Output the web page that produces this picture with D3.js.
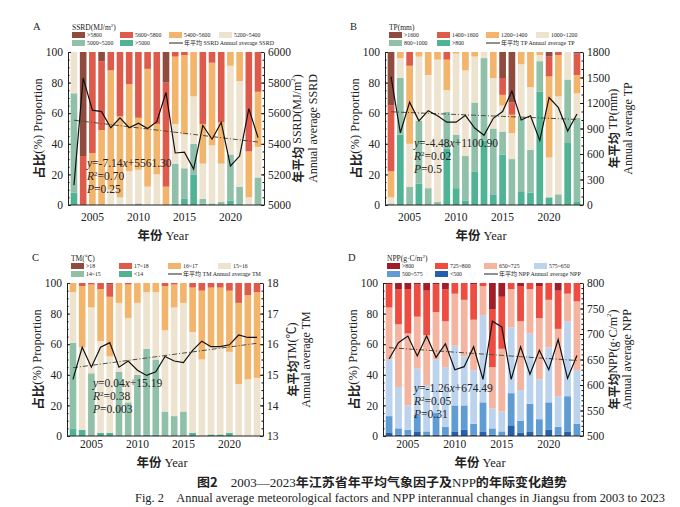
<!DOCTYPE html>
<html>
<head>
<meta charset="utf-8">
<script src="https://cdn.jsdelivr.net/npm/d3@7"></script>
<style>
  body { margin: 0; background: #fff; }
  svg { display: block; }
  text { font-family: "Liberation Serif", "Noto Sans CJK SC", serif; fill: #222; }
</style>
</head>
<body>
<div id="chart"></div>
<script>
// years shared by all four panels
var years = d3.range(2003, 2024);
var yearTicks = [2005, 2010, 2015, 2020];

// share (%) of each class per year, bottom class first
var ssrdPct = [
  [8,65,27,0,0,0],[0,0,0,0,32,68],[0,0,0,34,66,0],[0,0,0,49,45,6],[0,0,10,78,12,0],
  [0,0,5,53,42,0],[0,0,22,57,21,0],[0,1,22,34,43,0],[0,0,12,77,11,0],[0,0,20,33,47,0],
  [0,0,0,12,68,20],[1,26,26,44,3,0],[4,20,22,52,2,0],[20,20,31,29,0,0],[1,3,23,26,47,0],
  [0,1,38,54,7,0],[0,2,25,27,46,0],[3,30,58,9,0,0],[0,12,69,19,0,0],[0,0,5,30,65,0],
  [0,18,20,36,26,0]
];
var ssrdMean = [5130,5830,5620,5610,5505,5570,5505,5535,5500,5545,5735,5340,5345,5235,5520,5430,5540,5255,5320,5630,5440];

var tpPct = [
  [0,1,4,17,43,35],[46,37,13,4,0,0],[0,12,28,51,9,0],[14,41,42,3,0,0],[0,11,74,15,0,0],
  [0,2,93,5,0,0],[37,24,14,20,5,0],[11,35,53,1,0,0],[3,29,56,12,0,0],[22,45,30,3,0,0],
  [42,54,4,0,0,0],[7,43,33,17,0,0],[33,15,17,7,11,17],[0,30,17,12,8,33],[9,48,35,8,0,0],
  [8,28,41,23,0,0],[74,20,4,2,0,0],[5,0,26,53,13,3],[0,7,64,27,2,0],[41,41,18,0,0,0],
  [2,55,16,12,14,1]
];
var tpMean = [1510,850,1210,990,1110,1050,975,975,1055,905,820,1020,1100,1340,1000,1050,760,1265,1145,870,1070];

var tmPct = [
  [5,56,33,6,0,0],[4,0,54,40,2,0],[0,41,43,15,1,0],[2,0,60,34,4,0],[2,0,50,39,8,1],
  [0,42,45,13,0,0],[0,22,55,22,1,0],[0,40,47,13,0,0],[1,56,37,6,0,0],[1,49,44,6,0,0],
  [0,16,53,29,2,0],[0,13,71,15,1,0],[0,16,71,13,0,0],[2,0,66,29,3,0],[0,0,50,45,5,0],
  [1,0,57,39,3,0],[1,0,57,39,3,0],[2,0,53,40,5,0],[0,0,34,53,13,0],[0,0,37,55,8,0],
  [0,0,38,56,6,0]
];
var tmMean = [14.85,15.9,15.25,15.9,16.05,15.25,15.45,15.15,14.98,15.1,15.6,15.45,15.4,15.8,16.1,15.92,15.92,15.98,16.3,16.22,16.22];

var nppPct = [
  [2,11,37,34,15,1],[1,4,27,41,23,4],[1,3,16,47,29,4],[3,11,30,34,21,1],[1,2,30,33,29,5],
  [1,14,35,31,18,1],[1,5,39,30,21,4],[3,17,39,34,7,0],[4,16,32,37,11,0],[1,7,35,33,23,1],
  [3,19,57,19,2,0],[1,4,13,27,38,17],[0,3,13,41,34,9],[7,21,43,25,4,0],[2,8,20,45,23,2],
  [3,18,46,29,4,0],[1,10,26,40,21,2],[4,18,36,31,11,0],[1,5,20,44,25,5],[3,23,49,18,7,0],
  [0,8,35,45,12,0]
];
var nppMean = [651,683,696,657,696,654,681,630,636,675,611,725,714,611,675,621,668,630,689,613,658];

// class labels, bottom class first
var ssrdClasses = [">5000","5000~5200","5200~5400","5400~5600","5600~5800",">5800"];
var tpClasses = [">800","800~1000","1000~1200","1200~1400","1400~1600",">1600"];
var tmClasses = ["<14","14~15","15~16","16~17","17~18",">18"];
var nppClasses = ["<500","500~575","575~650","650~725","725~800",">800"];

var warmColors = ["#4fb394","#90c0a8","#ede3cf","#f2b56b","#de5a4a","#8e4b3e"];
var nppColors = ["#2660ac","#5f9cd4","#bcd3ee","#f4b49f","#ee4c40","#a01e2a"];

var svg = d3.select("#chart").append("svg")
    .attr("width", 680)
    .attr("height", 507);

svg.append("rect").attr("width", 680).attr("height", 507).attr("fill", "#fff");

function drawPanel(p) {
    var g = svg.append("g");

    var x = d3.scaleBand().domain(years)
        .range([p.left + 1, p.right - 1])
        .paddingInner(0.28).paddingOuter(0.18);
    var y = d3.scaleLinear().domain([0, 100]).range([p.bottom, p.top]);
    var y2 = d3.scaleLinear().domain(p.rDomain).range([p.bottom, p.top]);

    // stacked bars
    var rows = p.pct.map(function(r, i) {
        var o = {year: years[i]};
        r.forEach(function(v, k) { o["c" + k] = v; });
        return o;
    });
    var keys = d3.range(6).map(function(k) { return "c" + k; });
    var series = d3.stack().keys(keys)(rows);

    g.selectAll(".layer")
        .data(series)
        .enter().append("g")
        .attr("fill", function(d, k) { return p.colors[k]; })
        .selectAll("rect")
        .data(function(d) { return d; })
        .enter().append("rect")
        .attr("x", function(d) { return x(d.data.year); })
        .attr("width", x.bandwidth())
        .attr("y", function(d) { return y(d[1]); })
        .attr("height", function(d) { return y(d[0]) - y(d[1]); });

    // trend line from fitted equation, index 1..21
    var trend = years.map(function(yr, i) { return {year: yr, v: p.slope * (i + 1) + p.intercept}; });
    var cx = function(d) { return x(d.year) + x.bandwidth() / 2; };
    g.append("path")
        .datum(trend)
        .attr("fill", "none")
        .attr("stroke", "#4d4d40")
        .attr("stroke-width", 1)
        .attr("stroke-dasharray", "5,2,1,2")
        .attr("d", d3.line().x(cx).y(function(d) { return y2(d.v); }));

    // annual mean line
    var mean = years.map(function(yr, i) { return {year: yr, v: p.mean[i]}; });
    g.append("path")
        .datum(mean)
        .attr("fill", "none")
        .attr("stroke", "#111")
        .attr("stroke-width", 1.2)
        .attr("d", d3.line().x(cx).y(function(d) { return y2(d.v); }));

    // axes
    var left = g.append("g").attr("transform", "translate(" + p.left + ",0)")
        .call(d3.axisLeft(y).tickValues([0,20,40,60,80,100]).tickSizeInner(-3).tickSizeOuter(0).tickPadding(5));
    g.append("g").attr("transform", "translate(" + p.left + ",0)")
        .call(d3.axisLeft(y).tickValues(d3.range(5, 100, 5)).tickSize(-1.5).tickFormat(""))
        .select(".domain").remove();
    var right = g.append("g").attr("transform", "translate(" + p.right + ",0)")
        .call(d3.axisRight(y2).tickValues(p.rTicks).tickFormat(d3.format("")).tickSizeInner(-3).tickSizeOuter(0).tickPadding(4));
    g.append("g").attr("transform", "translate(" + p.right + ",0)")
        .call(d3.axisRight(y2).tickValues(p.rMinor).tickSize(-1.5).tickFormat(""))
        .select(".domain").remove();
    var bottom = g.append("g").attr("transform", "translate(0," + p.bottom + ")")
        .call(d3.axisBottom(x).tickValues(yearTicks).tickSize(0).tickPadding(p.xPad));
    bottom.select(".domain").attr("d", "M" + p.left + ",0H" + p.right);

    [left, right, bottom].forEach(function(a) {
        a.selectAll("text").attr("font-size", 11.5).attr("fill", "#222")
            .attr("font-family", "Liberation Serif, serif");
        a.selectAll("line, path").attr("stroke", "#222");
    });

    // axis titles
    var midY = (p.top + p.bottom) / 2;
    g.append("text")
        .attr("transform", "translate(" + (p.left - 30) + "," + midY + ") rotate(-90)")
        .attr("text-anchor", "middle").attr("dominant-baseline", "central")
        .attr("font-size", 12.5)
        .html('<tspan font-weight="bold" font-family="Noto Sans CJK SC">占比</tspan>(%) Proportion');
    g.append("text")
        .attr("transform", "translate(" + (p.right + p.r1) + "," + midY + ") rotate(-90)")
        .attr("text-anchor", "middle").attr("dominant-baseline", "central")
        .attr("font-size", 12)
        .html(p.rTitle1);
    g.append("text")
        .attr("transform", "translate(" + (p.right + p.r2) + "," + midY + ") rotate(-90)")
        .attr("text-anchor", "middle").attr("dominant-baseline", "central")
        .attr("font-size", 12)
        .text(p.rTitle2);
    g.append("text")
        .attr("x", (p.left + p.right) / 2 - 3).attr("y", p.bottom + p.xTitle)
        .attr("text-anchor", "middle").attr("font-size", 12.5)
        .html('<tspan font-weight="bold" font-family="Noto Sans CJK SC">年份</tspan> Year');

    // panel letter
    g.append("text").attr("x", p.left - 35).attr("y", p.top - 22)
        .attr("font-size", 10.5).text(p.letter);

    // equation
    var eq = g.append("g");
    eq.append("text").attr("x", p.eqX).attr("y", p.eqY).attr("font-size", 11.5).attr("fill", "#3b3b30")
        .html('<tspan font-style="italic">y</tspan>=' + p.eq1 + '<tspan font-style="italic">x</tspan>+' + p.eq2);
    eq.append("text").attr("x", p.eqX).attr("y", p.eqY + 13).attr("font-size", 11.5).attr("fill", "#3b3b30")
        .html('<tspan font-style="italic">R</tspan><tspan dy="-4" font-size="7">2</tspan><tspan dy="4">=' + p.r2v + '</tspan>');
    eq.append("text").attr("x", p.eqX).attr("y", p.eqY + 26).attr("font-size", 11.5).attr("fill", "#3b3b30")
        .html('<tspan font-style="italic">P</tspan>=' + p.pv);

    // legend
    var lg = g.append("g").attr("transform", "translate(" + (p.left + 4) + "," + (p.top - 20) + ")");
    lg.append("text").attr("x", 0).attr("y", -2).attr("font-size", 7.5).html(p.legTitle);
    var cols = [0, 48, 97, 147];
    var order = [5, 4, 3, 2, 1, 0];
    order.forEach(function(k, i) {
        var cxl = cols[i % 4], cyl = i < 4 ? 0 : 8;
        lg.append("rect").attr("x", cxl).attr("y", cyl).attr("width", 13).attr("height", 6)
            .attr("fill", p.colors[k]);
        lg.append("text").attr("x", cxl + 15).attr("y", cyl + 5).attr("font-size", 5.8)
            .text(p.classes[k]);
    });
    lg.append("line").attr("x1", cols[2]).attr("x2", cols[2] + 14).attr("y1", 11).attr("y2", 11)
        .attr("stroke", "#222").attr("stroke-width", 1);
    lg.append("text").attr("x", cols[2] + 15).attr("y", 13).attr("font-size", 6)
        .html('<tspan font-family="Noto Sans CJK SC">年平均</tspan> ' + p.legLine);
}

drawPanel({
    letter: "A", left: 68, right: 264, top: 52, bottom: 205, xPad: 8, xTitle: 35,
    pct: ssrdPct, mean: ssrdMean, classes: ssrdClasses, colors: warmColors,
    rDomain: [5000, 6000], rTicks: [5000,5200,5400,5600,5800,6000], rMinor: d3.range(5050, 6000, 50),
    slope: -7.14, intercept: 5561.30, eq1: "-7.14", eq2: "5561.30", r2v: "0.70", pv: "0.25",
    eqX: 87, eqY: 167,
    rTitle1: '<tspan font-weight="bold" font-family="Noto Sans CJK SC">年平均</tspan> SSRD(MJ/m<tspan dy="-4" font-size="7">2</tspan><tspan dy="4">)</tspan>',
    rTitle2: "Annual average SSRD", r1: 33, r2: 49,
    legTitle: 'SSRD(MJ/m<tspan dy="-3" font-size="5">2</tspan><tspan dy="3">)</tspan>', legLine: "SSRD Annual average SSRD"
});

drawPanel({
    letter: "B", left: 385, right: 583, top: 52, bottom: 205, xPad: 8, xTitle: 35,
    pct: tpPct, mean: tpMean, classes: tpClasses, colors: warmColors,
    rDomain: [0, 1800], rTicks: [0,300,600,900,1200,1500,1800], rMinor: d3.range(100, 1800, 100),
    slope: -4.48, intercept: 1100.90, eq1: "-4.48", eq2: "1100.90", r2v: "0.02", pv: "0.5",
    eqX: 414, eqY: 147,
    rTitle1: '<tspan font-weight="bold" font-family="Noto Sans CJK SC">年平均</tspan> TP(mm)',
    rTitle2: "Annual average TP", r1: 30, r2: 45,
    legTitle: "TP(mm)", legLine: "TP Annual average TP"
});

drawPanel({
    letter: "C", left: 67, right: 263, top: 283, bottom: 436, xPad: 4, xTitle: 31,
    pct: tmPct, mean: tmMean, classes: tmClasses, colors: warmColors,
    rDomain: [13, 18], rTicks: [13,14,15,16,17,18], rMinor: d3.range(13.25, 18, 0.25),
    slope: 0.04, intercept: 15.19, eq1: "0.04", eq2: "15.19", r2v: "0.38", pv: "0.003",
    eqX: 93, eqY: 387,
    rTitle1: '<tspan font-weight="bold" font-family="Noto Sans CJK SC">年平均</tspan>TM(℃)',
    rTitle2: "Annual average TM", r1: 29, r2: 43,
    legTitle: "TM(℃)", legLine: "TM Annual average TM"
});

drawPanel({
    letter: "D", left: 383, right: 583, top: 283, bottom: 436, xPad: 4, xTitle: 31,
    pct: nppPct, mean: nppMean, classes: nppClasses, colors: nppColors,
    rDomain: [500, 800], rTicks: [500,550,600,650,700,750,800], rMinor: d3.range(510, 800, 10),
    slope: -1.26, intercept: 674.49, eq1: "-1.26", eq2: "674.49", r2v: "0.05", pv: "0.31",
    eqX: 414, eqY: 392,
    rTitle1: '<tspan font-weight="bold" font-family="Noto Sans CJK SC">年平均</tspan>NPP(g·C/m<tspan dy="-4" font-size="7">2</tspan><tspan dy="4">)</tspan>',
    rTitle2: "Annual average NPP", r1: 30, r2: 44,
    legTitle: 'NPP(g·C/m<tspan dy="-3" font-size="5">2</tspan><tspan dy="3">)</tspan>', legLine: "NPP Annual average NPP"
});

// figure caption
svg.append("text").attr("x", 197).attr("y", 487)
    .attr("font-size", 12.5).attr("textLength", 370).attr("lengthAdjust", "spacingAndGlyphs")
    .html('<tspan font-family="Noto Sans CJK SC" font-weight="bold">图2</tspan>　2003—2023<tspan font-family="Noto Sans CJK SC" font-weight="bold">年江苏省年平均气象因子及</tspan>NPP<tspan font-family="Noto Sans CJK SC" font-weight="bold">的年际变化趋势</tspan>');
svg.append("text").attr("x", 135).attr("y", 502)
    .attr("font-size", 12).attr("textLength", 530).attr("lengthAdjust", "spacingAndGlyphs")
    .text("Fig. 2　Annual average meteorological factors and NPP interannual changes in Jiangsu from 2003 to 2023");
</script>
</body>
</html>
